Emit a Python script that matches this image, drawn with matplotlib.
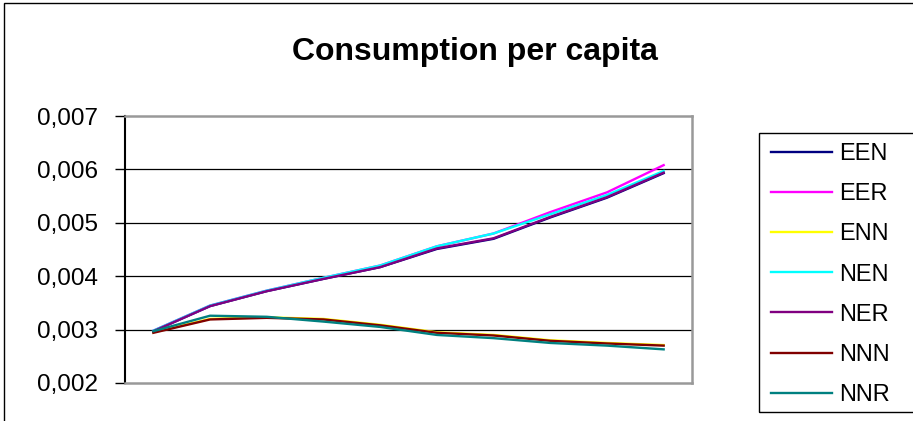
import matplotlib.pyplot as plt
from matplotlib.patches import Rectangle

# consumption per capita, 10 periods, one series per scenario
periods = list(range(10))
series_names = ['EEN', 'EER', 'ENN', 'NEN', 'NER', 'NNN', 'NNR']
series_colors = ['#000080', '#FF00FF', '#FFFF00', '#00FFFF', '#800080', '#800000', '#008080']

EEN = [0.00297, 0.00344, 0.00372, 0.00395, 0.00417, 0.00451, 0.00470, 0.00510, 0.00547, 0.00593]
EER = [0.00298, 0.00345, 0.00373, 0.00397, 0.00420, 0.00456, 0.00480, 0.00520, 0.00557, 0.00608]
ENN = [0.00295, 0.00320, 0.00323, 0.00320, 0.00309, 0.00295, 0.00290, 0.00280, 0.00275, 0.00271]
NEN = [0.00298, 0.00345, 0.00373, 0.00397, 0.00420, 0.00456, 0.00480, 0.00516, 0.00552, 0.00597]
NER = [0.00297, 0.00344, 0.00372, 0.00395, 0.00417, 0.00452, 0.00471, 0.00511, 0.00548, 0.00594]
NNN = [0.00294, 0.00319, 0.00322, 0.00319, 0.00308, 0.00294, 0.00289, 0.00279, 0.00274, 0.00270]
NNR = [0.00297, 0.00326, 0.00324, 0.00315, 0.00305, 0.00290, 0.00284, 0.00275, 0.00270, 0.00263]

y_ticks = [0.002, 0.003, 0.004, 0.005, 0.006, 0.007]
y_tick_labels = ['0,002', '0,003', '0,004', '0,005', '0,006', '0,007']

plt.rcParams['font.family'] = ['Liberation Sans', 'DejaVu Sans']

W, H = 913, 421
fig = plt.figure(figsize=(W / 100, H / 100), dpi=100)
fig.patch.set_facecolor('white')

# chart area border (runs off the right and bottom edges)
fig.patches.append(Rectangle((4 / W, -0.1), 1.2, 1.1 - 3.5 / H, transform=fig.transFigure,
                             fill=False, edgecolor='black', linewidth=1.0))

ax = fig.add_axes([125 / W, 1 - 383 / H, (692 - 125) / W, (383 - 116) / H])

data = [EEN, EER, ENN, NEN, NER, NNN, NNR]
for name, vals, col in zip(series_names, data, series_colors):
    ax.plot(periods, vals, color=col, linewidth=1.7, label=name, solid_joinstyle='miter')

ax.set_xlim(-0.5, 9.5)
ax.set_ylim(0.002, 0.007)
ax.set_xticks([])
ax.set_yticks(y_ticks)
ax.set_yticklabels(y_tick_labels, fontsize=17.5)
ax.tick_params(axis='y', direction='out', length=7.5, width=1, pad=12, colors='black')

for v in y_ticks[1:-1]:
    ax.axhline(v, color='black', linewidth=0.9, zorder=0)

for side in ['top', 'right', 'bottom']:
    ax.spines[side].set_color('#999999')
    ax.spines[side].set_linewidth(1.8)
ax.spines['left'].set_color('black')
ax.spines['left'].set_linewidth(1.5)

fig.text(475 / W, 1 - 52 / H, 'Consumption per capita', ha='center', va='center',
         fontsize=23, fontweight='bold')

# legend box runs past the right edge
fig.patches.append(Rectangle((759 / W, 1 - 412 / H), 0.3, (412 - 133) / H, transform=fig.transFigure,
                             fill=False, edgecolor='black', linewidth=1.0))
fig.legend(loc='upper left', bbox_to_anchor=(771 / W, 1 - 143 / H), frameon=False,
           fontsize=17, handlelength=2.6, handletextpad=0.3, labelspacing=0.77,
           borderpad=0, borderaxespad=0)

fig.savefig('out.png', dpi=100)
